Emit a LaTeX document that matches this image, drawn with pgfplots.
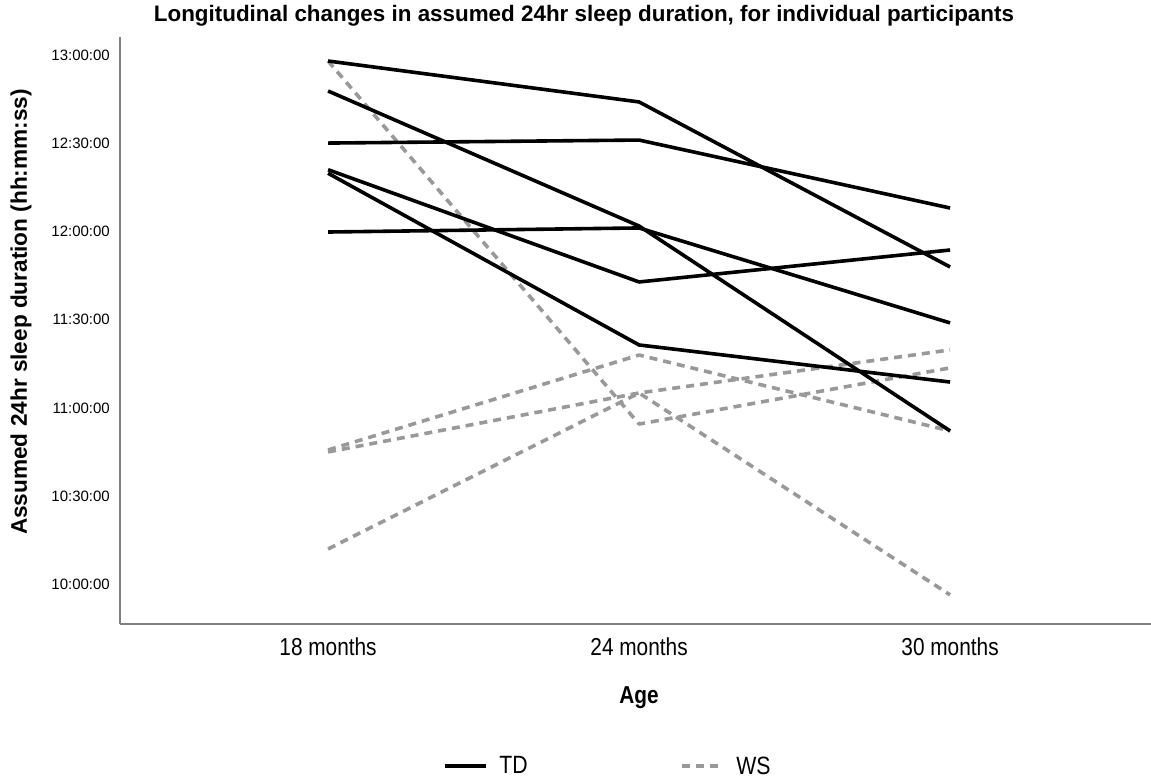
\documentclass[border=0pt]{standalone}
\usepackage{fontspec}
\setmainfont{Liberation Sans}
\newfontfamily\narrowfont[FakeStretch=0.85]{Liberation Sans}
\usepackage{pgfplots}
\pgfplotsset{compat=1.18}
\definecolor{wsgray}{RGB}{153,153,153}
\definecolor{axgray}{RGB}{128,128,128}
\begin{document}
\begin{tikzpicture}
\useasboundingbox (0,0) rectangle (1151pt,781pt);
\begin{axis}[
  at={(120pt,157pt)}, anchor=south west,
  scale only axis, width=1031pt, height=587pt,
  xmin=-0.669, xmax=2.646, ymin=9.776, ymax=13.102,
  clip=false,
  axis x line*=bottom, axis y line*=left,
  axis line style={draw=axgray, line width=1.5pt},
  xtick={0,1,2}, xticklabels={18 months,24 months,30 months},
  ytick={10,10.5,11,11.5,12,12.5,13},
  yticklabels={10:00:00,10:30:00,11:00:00,11:30:00,12:00:00,12:30:00,13:00:00},
  major tick length=0pt,
  xticklabel style={font=\narrowfont\fontsize{24.5}{28}\selectfont, inner sep=0pt, yshift=-14pt},
  yticklabel style={font=\fontsize{15}{18}\selectfont, inner sep=0pt, xshift=-10pt},
  title={Longitudinal changes in assumed 24hr sleep duration, for individual participants},
  title style={font=\bfseries\fontsize{22.4}{26}\selectfont, at={(axis description cs:0.450,1.0170)}, anchor=base, inner sep=0pt},
  xlabel={Age},
  xlabel style={font=\narrowfont\bfseries\fontsize{24.5}{28}\selectfont, at={(axis description cs:0.5034,-0.1346)}, anchor=base, inner sep=0pt},
  ylabel={Assumed 24hr sleep duration (hh:mm:ss)},
  ylabel style={font=\bfseries\fontsize{22.6}{26}\selectfont, at={(axis description cs:-0.0960,0.5315)}, anchor=center, inner sep=0pt},
  legend columns=2,
  legend style={at={(axis description cs:0.473,-0.242)}, anchor=center, draw=none, fill=none,
    font=\narrowfont\fontsize{25}{28}\selectfont,
    /tikz/every even column/.append style={column sep=150pt}},
  legend cell align=left,
  legend image code/.code={\draw[#1] (0pt,0pt) -- (41pt,0pt);},
  td/.style={black, line width=3.6pt, line join=round},
  ws/.style={wsgray, line width=3.6pt, dash pattern=on 8pt off 6pt, line join=round},
]
% WS (drawn first, behind)
\addplot[ws, forget plot] coordinates {(0,10.762) (1,11.300) (2,10.870)};
\addplot[ws, forget plot] coordinates {(0,12.966) (1,10.909) (2,11.227)};
\addplot[ws, forget plot] coordinates {(0,10.751) (1,11.085) (2,11.329)};
\addplot[ws, forget plot] coordinates {(0,10.201) (1,11.085) (2,9.941)};
% TD
\addplot[td] coordinates {(0,12.966) (1,12.734) (2,11.799)};
\addlegendentry{\hspace{10pt}TD}
\addplot[td, forget plot] coordinates {(0,12.796) (1,12.031) (2,10.870)};
\addplot[td, forget plot] coordinates {(0,12.501) (1,12.518) (2,12.133)};
\addplot[td, forget plot] coordinates {(0,12.350) (1,11.714) (2,11.895)};
\addplot[td, forget plot] coordinates {(0,12.330) (1,11.357) (2,11.147)};
\addplot[td, forget plot] coordinates {(0,11.997) (1,12.020) (2,11.482)};
\addlegendimage{ws}
\addlegendentry{\hspace{10pt}WS}
\end{axis}
\end{tikzpicture}
\end{document}
